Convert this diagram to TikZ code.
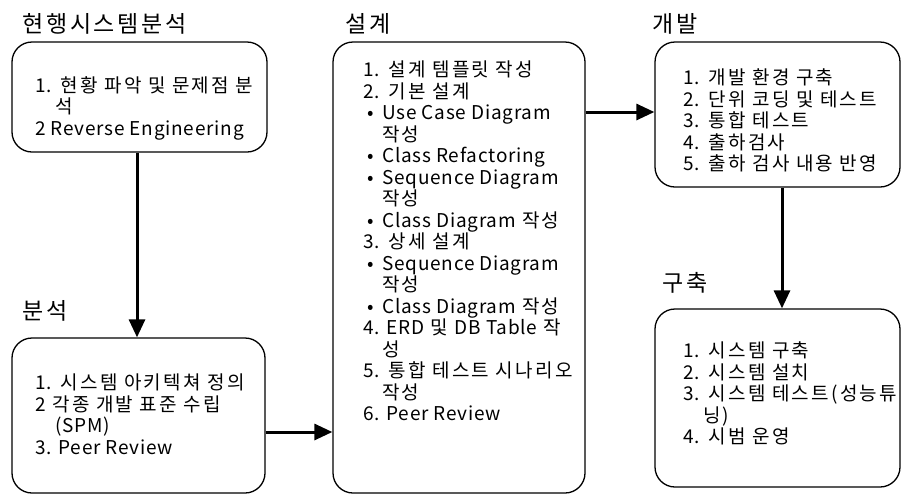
\documentclass[tikz,border=0pt]{standalone}
\usepackage{fontspec}
\setmainfont{Noto Sans CJK KR}[LetterSpace=12]
\newfontfamily\lat{Noto Sans CJK KR}[LetterSpace=4]
\usetikzlibrary{arrows.meta}
\newcommand\bl{\hspace*{4pt}\makebox[15pt][l]{•}}
\newcommand\cont{\hspace*{19pt}}
\newcommand\hang{\hspace*{20pt}}
\newcommand\la[1]{{\lat #1}}
\begin{document}
\begin{tikzpicture}[x=1pt,y=-1pt,
  box/.style={draw, line width=1.3pt, rounded corners=20pt, inner sep=0},
  ttl/.style={anchor=west, font=\fontsize{23}{26}\selectfont, inner sep=0},
  txt/.style={anchor=north west, align=left, font=\fontsize{19}{21.5}\selectfont, inner sep=0},
  arr/.style={line width=3pt, -{Triangle[length=18pt,width=16pt]}}]
\useasboundingbox (0,0) rectangle (902,496);
% boxes
\node[box, minimum width=255pt, minimum height=110pt] (b1) at (139.5,97) {};
\node[box, minimum width=253pt, minimum height=155pt] (b2) at (138.5,415.5) {};
\node[box, minimum width=252pt, minimum height=451pt] (b3) at (459,267.5) {};
\node[box, minimum width=245pt, minimum height=145pt] (b4) at (777.5,114.5) {};
\node[box, minimum width=245pt, minimum height=178pt] (b5) at (777.5,398) {};
% titles
\node[ttl] (t1) at (22,24) {현행시스템분석};
\node[ttl] (t2) at (22,311) {분석};
\node[ttl] (t3) at (345,24) {설계};
\node[ttl] (t4) at (652,24) {개발};
\node[ttl] (t5) at (662,283) {구축};
% texts
\node[txt] (x1) at (35,76) {\la{1.} 현황 파악 및 문제점 분\\ \hang 석\\ \la{2 Reverse Engineering}};
\node[txt] (x2) at (35,374) {\la{1.} 시스템 아키텍쳐 정의\\ \la{2} 각종 개발 표준 수립\\ \hang \la{(SPM)}\\ \la{3. Peer Review}};
\node[txt] (x3) at (363,61) {\la{1.} 설계 템플릿 작성\\ \la{2.} 기본 설계\\ \bl \la{Use Case Diagram}\\ \cont 작성\\ \bl \la{Class Refactoring}\\ \bl \la{Sequence Diagram}\\ \cont 작성\\ \bl \la{Class Diagram} 작성\\ \la{3.} 상세 설계\\ \bl \la{Sequence Diagram}\\ \cont 작성\\ \bl \la{Class Diagram} 작성\\ \la{4. ERD} 및 \la{DB Table} 작\\ \cont 성\\ \la{5.} 통합 테스트 시나리오\\ \cont 작성\\ \la{6. Peer Review}};
\node[txt] (x4) at (683,69) {\la{1.} 개발 환경 구축\\ \la{2.} 단위 코딩 및 테스트\\ \la{3.} 통합 테스트\\ \la{4.} 출하검사\\ \la{5.} 출하 검사 내용 반영};
\node[txt] (x5) at (683,342) {\la{1.} 시스템 구축\\ \la{2.} 시스템 설치\\ \la{3.} 시스템 테스트(성능튜\\ \hang 닝)\\ \la{4.} 시범 운영};
% arrows
\draw[arr] (b1.south -| 137,0) -- (b2.north -| 137,0);
\draw[arr] (b2.east |- 0,432) -- (b3.west |- 0,432);
\draw[arr] (b3.east |- 0,112) -- (b4.west |- 0,112);
\draw[arr] (b4.south -| 782,0) -- (b5.north -| 782,0);
\end{tikzpicture}
\end{document}
